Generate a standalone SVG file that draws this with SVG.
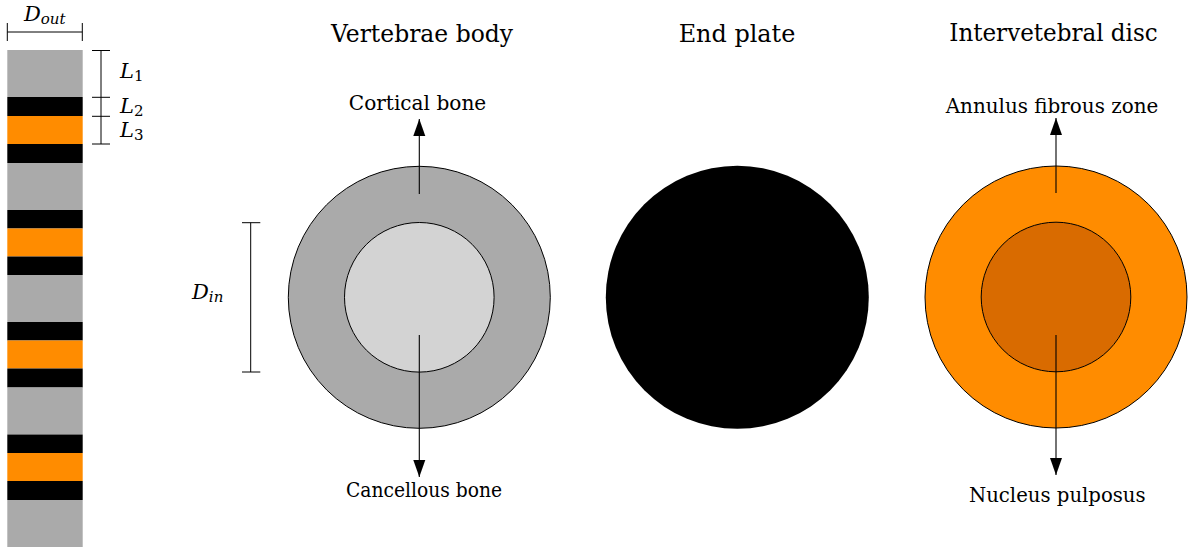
<svg xmlns="http://www.w3.org/2000/svg" width="1188" height="549" viewBox="0 0 1188 549">
<style>
.t{font-family:"DejaVu Serif","Liberation Serif",serif;fill:#000;text-anchor:middle}
.title{font-size:25px}
.lab{font-size:21px}
.m{font-family:"DejaVu Serif","Liberation Serif",serif;font-style:italic;fill:#000}
.mb{font-size:21px}
.ms{font-size:15px}
.up{font-style:normal}
.dim{stroke:#000;stroke-width:1;fill:none}
.con{stroke:#000;stroke-width:1.1;fill:none;marker-end:url(#ah)}
.ring{stroke:#000;stroke-width:1}
.g{fill:#aaaaaa}.k{fill:#000}.o{fill:#ff8c00}
</style>
<defs>
<marker id="ah" markerUnits="userSpaceOnUse" markerWidth="18" markerHeight="13" refX="17" refY="6.5" orient="auto">
<polygon points="0,0.5 17,6.5 0,12.5" fill="#000"/>
</marker>
</defs>
<rect width="1188" height="549" fill="#fff"/>

<g id="column">
<rect class="g" x="7.3" y="50" width="75.4" height="47"/>
<rect class="k" x="7.3" y="97" width="75.4" height="19"/>
<rect class="o" x="7.3" y="116" width="75.4" height="28"/>
<rect class="k" x="7.3" y="144" width="75.4" height="19"/>
<rect class="g" x="7.3" y="163" width="75.4" height="47"/>
<rect class="k" x="7.3" y="210" width="75.4" height="18.5"/>
<rect class="o" x="7.3" y="228.5" width="75.4" height="28"/>
<rect class="k" x="7.3" y="256.5" width="75.4" height="18.5"/>
<rect class="g" x="7.3" y="275" width="75.4" height="47"/>
<rect class="k" x="7.3" y="322" width="75.4" height="18.5"/>
<rect class="o" x="7.3" y="340.5" width="75.4" height="28"/>
<rect class="k" x="7.3" y="368.5" width="75.4" height="19"/>
<rect class="g" x="7.3" y="387.5" width="75.4" height="47"/>
<rect class="k" x="7.3" y="434.5" width="75.4" height="18.5"/>
<rect class="o" x="7.3" y="453" width="75.4" height="28"/>
<rect class="k" x="7.3" y="481" width="75.4" height="19"/>
<rect class="g" x="7.3" y="500" width="75.4" height="47"/>
</g>

<g id="dim-dout">
<path class="dim" d="M7.3,32H82.3M7.3,23V41M82.3,23V41"/>
<text class="m mb" x="24" y="21">D<tspan class="ms" dy="3">out</tspan></text>
</g>

<g id="dim-l">
<path class="dim" d="M101,50.5V144M92,50.5H110M92,97.3H110M92,116.3H110M92,144H110"/>
<text class="m mb" x="120" y="77.5">L<tspan class="ms up" dy="3">1</tspan></text>
<text class="m mb" x="120" y="113">L<tspan class="ms up" dy="3">2</tspan></text>
<text class="m mb" x="120" y="136.5">L<tspan class="ms up" dy="3">3</tspan></text>
</g>

<g id="dim-din">
<path class="dim" d="M250.7,222.7V372M242,222.7H260.3M242,372H260.3"/>
<text class="m mb" x="192" y="299">D<tspan class="ms" dy="3">in</tspan></text>
</g>

<g id="vertebrae">
<text class="t title" x="422" y="42" textLength="182" lengthAdjust="spacingAndGlyphs">Vertebrae body</text>
<circle class="ring" cx="419.3" cy="297.3" r="131" fill="#aaaaaa"/>
<circle class="ring" cx="419.3" cy="297.3" r="74.8" fill="#d3d3d3"/>
<text class="t lab" x="417.5" y="110" textLength="137.5" lengthAdjust="spacingAndGlyphs">Cortical bone</text>
<text class="t lab" x="424" y="497" textLength="156" lengthAdjust="spacingAndGlyphs">Cancellous bone</text>
</g>

<g id="endplate">
<text class="t title" x="737" y="41.7" textLength="116.7" lengthAdjust="spacingAndGlyphs">End plate</text>
<circle cx="737.3" cy="297.3" r="131.5" fill="#000"/>
</g>

<g id="disc">
<text class="t title" x="1053.5" y="41" textLength="208.4" lengthAdjust="spacingAndGlyphs">Intervetebral disc</text>
<circle class="ring" cx="1056" cy="297" r="131" fill="#ff8c00"/>
<circle class="ring" cx="1056" cy="297" r="74.8" fill="#d96b00"/>
<text class="t lab" x="1052" y="113" textLength="212.6" lengthAdjust="spacingAndGlyphs">Annulus fibrous zone</text>
<text class="t lab" x="1057.3" y="501.5" textLength="176.7" lengthAdjust="spacingAndGlyphs">Nucleus pulposus</text>
</g>

<g id="connectors">
<path class="con" d="M419.3,194V119"/>
<path class="con" d="M419.3,335V477"/>
<path class="con" d="M1056,193V118"/>
<path class="con" d="M1056,335V475"/>
</g>
</svg>
